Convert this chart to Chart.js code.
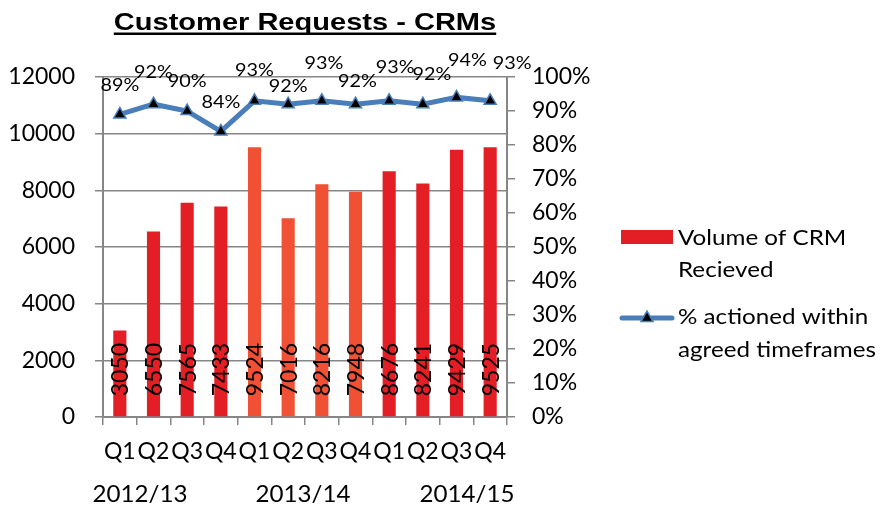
<!DOCTYPE html>
<html>
<head>
<meta charset="utf-8">
<script src="https://cdn.jsdelivr.net/npm/chart.js@4.4.1/dist/chart.umd.min.js"></script>
<style>
  html, body { margin: 0; padding: 0; background: #fff; }
  #wrap { width: 886px; height: 508px; }
</style>
</head>
<body>
<div id="wrap"><canvas id="crm-chart" width="886" height="508"></canvas></div>
<script>
const quarters = ['Q1', 'Q2', 'Q3', 'Q4', 'Q1', 'Q2', 'Q3', 'Q4', 'Q1', 'Q2', 'Q3', 'Q4'];
const years = ['2012/13', '2013/14', '2014/15'];
const volume = [3050, 6550, 7565, 7433, 9524, 7016, 8216, 7948, 8676, 8241, 9429, 9525];
const actioned = [89, 92, 90, 84, 93, 92, 93, 92, 93, 92, 94, 93];
const volumeTicks = [0, 2000, 4000, 6000, 8000, 10000, 12000];
const percentTicks = [0, 10, 20, 30, 40, 50, 60, 70, 80, 90, 100];
const seriesNames = [['Volume of CRM', 'Recieved'], ['% actioned within', 'agreed timeframes']];

const RED = '#E31E25';
const ORANGE = '#F05034';
const BLUE = '#4A7EBB';
const GRID = '#868686';
const FONT = 'Lato';
const yearColors = [RED, ORANGE, RED];

// hand-placed % labels, like the Excel original (dx, dy from the point)
const labelNudge = [[0, -29], [0, -32], [0, -30], [0, -29], [0, -31], [0, -18],
  [2, -38], [2, -23], [6, -34], [9, -30], [11, -37], [22, -38]];

Chart.defaults.font.family = FONT;
Chart.defaults.font.size = 23;
Chart.defaults.color = '#000';

// the original picture is a bit wide, so custom text gets stretched a little
const wideText = (ctx, text, x, y, sx) => {
  ctx.save();
  ctx.translate(x, y);
  ctx.scale(sx, 1);
  ctx.fillText(text, 0, 0);
  ctx.restore();
};

const titlePlugin = {
  id: 'underlinedTitle',
  afterDraw(chart) {
    const { ctx, chartArea } = chart;
    const text = 'Customer Requests - CRMs';
    const cx = (chartArea.left + chartArea.right) / 2;
    ctx.save();
    ctx.font = 'bold 24px "Liberation Sans"';
    const w = ctx.measureText(text).width;
    ctx.translate(cx, 0);
    ctx.scale(1.21, 1);
    ctx.fillStyle = '#000';
    ctx.textAlign = 'center';
    ctx.textBaseline = 'alphabetic';
    ctx.fillText(text, 0, 30);
    ctx.fillRect(-w / 2, 32.5, w, 2.5);
    ctx.restore();
  }
};

const valueLabels = {
  id: 'valueLabels',
  afterDatasetsDraw(chart) {
    const { ctx } = chart;
    ctx.save();
    ctx.fillStyle = '#000';

    // bar values, rotated, sitting on the base
    ctx.font = '23px ' + FONT;
    chart.getDatasetMeta(0).data.forEach((bar, i) => {
      ctx.save();
      ctx.translate(bar.x + 1, bar.base - 20);
      ctx.rotate(-Math.PI / 2);
      ctx.textAlign = 'left';
      ctx.textBaseline = 'middle';
      ctx.fillText(String(volume[i]), 0, 0);
      ctx.restore();
    });

    // percentages above the line
    ctx.font = '18px ' + FONT;
    ctx.textAlign = 'center';
    ctx.textBaseline = 'middle';
    chart.getDatasetMeta(1).data.forEach((pt, i) => {
      const [dx, dy] = labelNudge[i];
      wideText(ctx, actioned[i] + '%', pt.x + dx, pt.y + dy, 1.1);
    });
    ctx.restore();
  }
};

const yearLabels = {
  id: 'yearLabels',
  afterDraw(chart) {
    const { ctx, chartArea } = chart;
    const x = chart.scales.x;
    const at = [0.6, 5.44, 10.31];
    ctx.save();
    ctx.font = '23px ' + FONT;
    ctx.fillStyle = '#000';
    ctx.textAlign = 'center';
    ctx.textBaseline = 'middle';
    years.forEach((y, i) => {
      wideText(ctx, y, x.getPixelForValue(at[i]), chartArea.bottom + 78, 1.05);
    });
    ctx.restore();
  }
};

const sideLegend = {
  id: 'sideLegend',
  afterDraw(chart) {
    const { ctx } = chart;
    ctx.save();
    ctx.font = '22px ' + FONT;
    ctx.textAlign = 'left';
    ctx.textBaseline = 'middle';

    ctx.fillStyle = RED;
    ctx.fillRect(621, 230, 52, 14);
    ctx.fillStyle = '#000';
    wideText(ctx, seriesNames[0][0], 678, 238, 1.1);
    wideText(ctx, seriesNames[0][1], 678, 270, 1.1);

    ctx.strokeStyle = BLUE;
    ctx.lineWidth = 5;
    ctx.lineCap = 'round';
    ctx.beginPath();
    ctx.moveTo(622, 318);
    ctx.lineTo(672, 318);
    ctx.stroke();
    ctx.fillStyle = '#000';
    ctx.lineWidth = 1.5;
    Chart.helpers.drawPoint(ctx, { pointStyle: 'triangle', radius: 7, borderWidth: 1.5 }, 647, 318);
    ctx.fillStyle = '#000';
    wideText(ctx, seriesNames[1][0], 678, 317, 1.1);
    wideText(ctx, seriesNames[1][1], 678, 350, 1.1);
    ctx.restore();
  }
};

new Chart(document.getElementById('crm-chart'), {
  data: {
    labels: quarters,
    datasets: [
      {
        type: 'bar',
        label: seriesNames[0].join(' '),
        data: volume,
        yAxisID: 'y',
        order: 1,
        backgroundColor: (c) => yearColors[Math.floor(c.dataIndex / 4)],
        barPercentage: 0.39,
        categoryPercentage: 1
      },
      {
        type: 'line',
        label: seriesNames[1].join(' '),
        data: actioned,
        yAxisID: 'y1',
        order: 0,
        borderColor: BLUE,
        borderWidth: 5,
        tension: 0,
        pointStyle: 'triangle',
        pointRadius: 7,
        pointBackgroundColor: '#000',
        pointBorderColor: BLUE,
        pointBorderWidth: 1.5
      }
    ]
  },
  options: {
    responsive: false,
    animation: false,
    layout: { padding: { top: 77, right: 279, left: 0, bottom: 0 } },
    plugins: {
      legend: { display: false },
      title: { display: false },
      tooltip: { enabled: false }
    },
    scales: {
      x: {
        offset: true,
        grid: { offset: true, drawOnChartArea: false, tickLength: 8, color: GRID, lineWidth: 1.5 },
        border: { color: GRID, width: 2 },
        ticks: { padding: 13, maxRotation: 0, autoSkip: false },
        afterFit: (s) => { s.height = 91; }
      },
      y: {
        position: 'left',
        min: 0,
        max: 12000,
        afterBuildTicks: (s) => { s.ticks = volumeTicks.map(v => ({ value: v })); },
        grid: { color: GRID, lineWidth: 1.5, tickLength: 8 },
        border: { color: GRID, width: 2 },
        ticks: { padding: 20, callback: (v) => String(v) },
        afterFit: (s) => { s.width = 103; }
      },
      y1: {
        position: 'right',
        min: 0,
        max: 100,
        afterBuildTicks: (s) => { s.ticks = percentTicks.map(v => ({ value: v })); },
        grid: { drawOnChartArea: false, color: GRID, lineWidth: 1.5, tickLength: 8 },
        border: { color: GRID, width: 2 },
        ticks: { padding: 17, callback: (v) => v + '%' },
        afterFit: (s) => { s.width = 100; }
      }
    }
  },
  plugins: [titlePlugin, valueLabels, yearLabels, sideLegend]
});
</script>
</body>
</html>
